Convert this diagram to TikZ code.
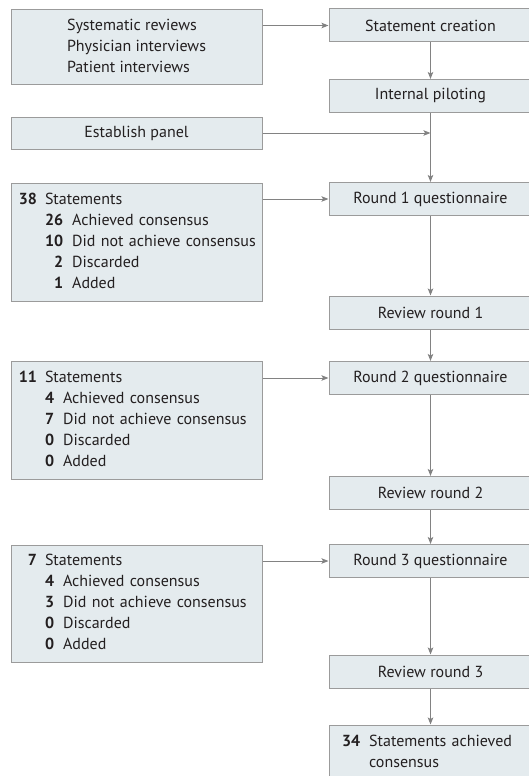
\documentclass[tikz,border=0pt]{standalone}
\usepackage{fontspec}
\setmainfont{PT Sans}
\usetikzlibrary{arrows.meta}
\definecolor{boxfill}{RGB}{228,235,238}
\definecolor{boxline}{RGB}{155,155,155}
\definecolor{arrowline}{RGB}{130,130,130}
\definecolor{ink}{RGB}{35,31,32}
\newcommand{\leadnum}[1]{\makebox[16pt][r]{\bfseries #1}}

\begin{document}
\begin{tikzpicture}[x=1pt, y=-1pt,
	box/.style={draw=boxline, fill=boxfill, line width=1pt, inner sep=0pt, text=ink, font=\fontsize{16}{21}\selectfont},
	leftbox/.style={box, minimum width=251pt},
	rightbox/.style={box, minimum width=203pt, minimum height=33pt},
	flow/.style={draw=arrowline, line width=1pt, -{Stealth[length=7pt, width=5.5pt, inset=1.5pt]}}]
	\useasboundingbox (0,0) rectangle (529,776);

	% Sources and panel
	\node[leftbox, minimum height=74pt] (src) at (136.5,47) {\begin{tabular}{@{}l@{}}Systematic reviews\\Physician interviews\\Patient interviews\end{tabular}};
	\node[leftbox, minimum height=32pt] (panel) at (136.5,133) {Establish panel};

	% Statement counts per round
	\node[leftbox, minimum height=118pt, text width=231pt, align=left] (stat1) at (136.5,242) {\begin{tabular}{@{}l@{\hspace{8pt}}r@{\hspace{9pt}}l@{}}
		\leadnum{38} & \multicolumn{2}{@{}l@{}}{Statements}\\
		& \textbf{26} & Achieved consensus\\
		& \textbf{10} & Did not achieve consensus\\
		& \textbf{2} & Discarded\\
		& \textbf{1} & Added
	\end{tabular}};
	\node[leftbox, minimum height=118pt, text width=231pt, align=left] (stat2) at (136.5,420) {\begin{tabular}{@{}l@{\hspace{8pt}}r@{\hspace{9pt}}l@{}}
		\leadnum{11} & \multicolumn{2}{@{}l@{}}{Statements}\\
		& \textbf{4} & Achieved consensus\\
		& \textbf{7} & Did not achieve consensus\\
		& \textbf{0} & Discarded\\
		& \textbf{0} & Added
	\end{tabular}};
	\node[leftbox, minimum height=117pt, text width=231pt, align=left] (stat3) at (136.5,603.5) {\begin{tabular}{@{}l@{\hspace{8pt}}r@{\hspace{9pt}}l@{}}
		\leadnum{7} & \multicolumn{2}{@{}l@{}}{Statements}\\
		& \textbf{4} & Achieved consensus\\
		& \textbf{3} & Did not achieve consensus\\
		& \textbf{0} & Discarded\\
		& \textbf{0} & Added
	\end{tabular}};

	% Main sequence
	\node[rightbox] (create) at (430.5,25.5) {Statement creation};
	\node[rightbox] (pilot) at (430.5,96) {Internal piloting};
	\node[rightbox] (round1) at (430.5,199) {Round 1 questionnaire};
	\node[rightbox] (review1) at (430.5,312.5) {Review round 1};
	\node[rightbox] (round2) at (430.5,378) {Round 2 questionnaire};
	\node[rightbox] (review2) at (430.5,493) {Review round 2};
	\node[rightbox] (round3) at (430.5,561) {Round 3 questionnaire};
	\node[rightbox] (review3) at (430.5,671.5) {Review round 3};
	\node[rightbox, minimum height=56pt, text width=177pt, align=left] (final) at (430.5,753) {\begin{tabular}{@{}r@{\hspace{9pt}}l@{}}\textbf{34} & Statements achieved\\ & consensus\end{tabular}};

	% Side arrows
	\coordinate (join) at (pilot.south |- panel.east);
	\draw[flow] (src.east |- create.west) -- (create.west);
	\draw[flow] (panel.east) -- (join);
	\draw[flow] (stat1.east |- round1.west) -- (round1.west);
	\draw[flow] (stat2.east |- round2.west) -- (round2.west);
	\draw[flow] (stat3.east |- round3.west) -- (round3.west);

	% Down arrows
	\draw[flow] (create) -- (pilot);
	\draw[flow] (pilot) -- (round1);
	\draw[flow] (round1) -- (review1);
	\draw[flow] (review1) -- (round2);
	\draw[flow] (round2) -- (review2);
	\draw[flow] (review2) -- (round3);
	\draw[flow] (round3) -- (review3);
	\draw[flow] (review3) -- (final);
\end{tikzpicture}
\end{document}
